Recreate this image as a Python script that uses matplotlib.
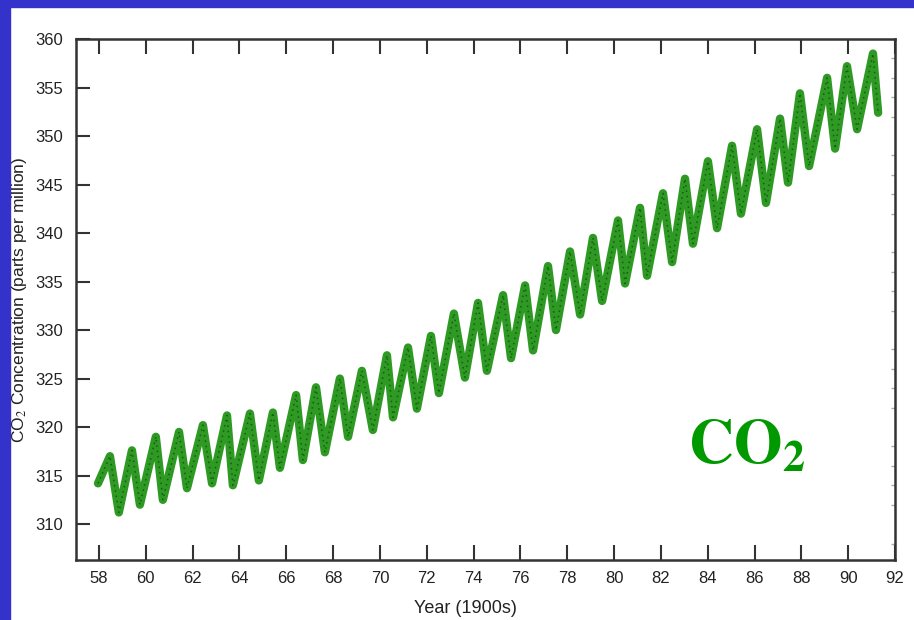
"""Mauna Loa CO2 record, 1958-1991, redrawn as a slide figure."""

import matplotlib
matplotlib.use("Agg")
import matplotlib.pyplot as plt
from matplotlib.patches import Rectangle
from matplotlib.ticker import MultipleLocator

# peaks and troughs (year in 1900s, ppm)
years = [
    57.96, 58.47, 58.85, 59.41, 59.75, 60.43, 60.73, 61.42, 61.76, 62.44,
    62.83, 63.47, 63.72, 64.45, 64.83, 65.43, 65.73, 66.42, 66.71, 67.27,
    67.65, 68.29, 68.64, 69.23, 69.70, 70.30, 70.56, 71.20, 71.58, 72.18,
    72.52, 73.16, 73.63, 74.19, 74.57, 75.26, 75.60, 76.20, 76.54, 77.18,
    77.52, 78.12, 78.55, 79.10, 79.49, 80.17, 80.47, 81.11, 81.41, 82.09,
    82.48, 83.03, 83.37, 84.01, 84.40, 85.04, 85.42, 86.11, 86.49, 87.09,
    87.43, 87.94, 88.33, 89.10, 89.44, 89.95, 90.38, 91.06, 91.28,
]
co2 = [
    314.2, 317.0, 311.2, 317.6, 312.0, 319.0, 312.5, 319.5, 313.7, 320.2,
    314.2, 321.2, 314.0, 321.4, 314.5, 321.5, 315.8, 323.3, 316.6, 324.1,
    317.4, 325.0, 319.0, 325.8, 319.7, 327.4, 321.0, 328.2, 321.9, 329.4,
    323.5, 331.7, 325.1, 332.8, 325.8, 333.6, 327.1, 334.6, 327.9, 336.6,
    330.0, 338.1, 331.6, 339.5, 333.0, 341.3, 334.8, 342.6, 335.6, 344.1,
    337.0, 345.6, 338.9, 347.4, 340.5, 349.0, 342.0, 350.7, 343.1, 351.8,
    345.2, 354.4, 346.9, 356.0, 348.7, 357.2, 350.7, 358.5, 352.4,
]
x_ticks = list(range(58, 93, 2))
y_ticks = list(range(310, 361, 5))

BLUE = "#3333cc"
LINE_GREEN = "#2e9a24"
TEXT_GREEN = "#009900"
INK = "#333333"

plt.rcParams["font.family"] = ["Liberation Sans", "DejaVu Sans"]
plt.rcParams["mathtext.fontset"] = "stix"

fig = plt.figure(figsize=(9.14, 6.2), dpi=100)
fig.patch.set_facecolor("white")
fig.patches.append(Rectangle((0, 0), 10 / 914, 1, transform=fig.transFigure, color=BLUE, zorder=-1))
fig.patches.append(Rectangle((0, 1 - 7 / 620), 1, 7 / 620, transform=fig.transFigure, color=BLUE, zorder=-1))

ax = fig.add_axes([76 / 914, 60 / 620, 819 / 914, 521 / 620])
ax.plot(years, co2, color=LINE_GREEN, linewidth=6, solid_joinstyle="round",
        solid_capstyle="round", zorder=3)
ax.plot(years, co2, color="#165c12", linewidth=1.1, linestyle=(0, (1, 2.5)),
        dash_joinstyle="round", zorder=4)

ax.set_xlim(57.02, 92)
ax.set_ylim(306.3, 360)
ax.set_xticks(x_ticks)
ax.set_xticklabels([str(t) for t in x_ticks])
ax.set_yticks(y_ticks)
ax.yaxis.set_minor_locator(MultipleLocator(2))

ax.tick_params(axis="x", direction="in", length=11, width=1.5, color=INK,
               top=True, bottom=True, labelsize=12, labelcolor="#222222", pad=8)
ax.tick_params(axis="y", which="major", direction="in", length=10, width=1.5, color=INK,
               left=True, right=False, labelsize=12, labelcolor="#222222", pad=9)
ax.tick_params(axis="y", which="minor", direction="in", length=3, width=1, color="#aaaaaa",
               left=False, right=True)

for side in ("left", "bottom", "top", "right"):
    ax.spines[side].set_linewidth(1.8)
    ax.spines[side].set_color(INK)

ax.set_xlabel("Year (1900s)", fontsize=13, color="#222222")
ax.xaxis.set_label_coords(0.476, -0.077)
ax.set_ylabel("CO$_2$ Concentration (parts per million)", fontsize=12.5, color="#222222")
ax.yaxis.set_label_coords(-0.057, 0.5)

fig.text(688 / 914, (620 - 463) / 620, r"$\mathbf{CO_2}$", color=TEXT_GREEN,
         fontsize=45, ha="left", va="baseline")

fig.savefig("out.png", dpi=100)
